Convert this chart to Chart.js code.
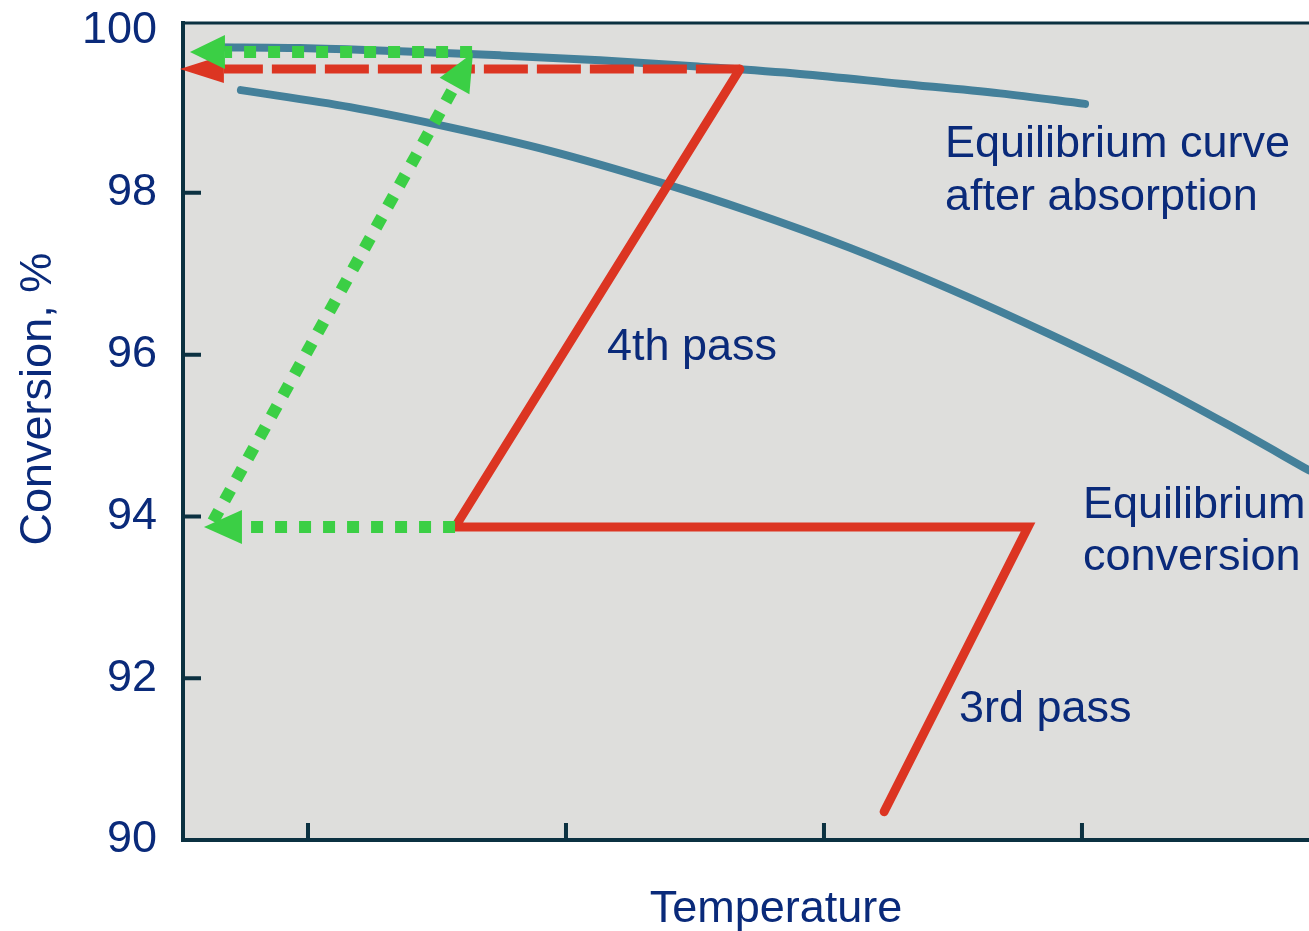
<!DOCTYPE html>
<html>
<head>
<meta charset="utf-8">
<script src="https://cdn.jsdelivr.net/npm/chart.js@4"></script>
<style>
  html, body { margin: 0; padding: 0; background: #fff; }
</style>
</head>
<body>
<canvas id="chart" width="1309" height="931"></canvas>
<script>
// axis ticks (x has no labels, only marks)
const yTicks = [90, 92, 94, 96, 98, 100];
const xTicks = [1, 2, 3, 4];
const yMarks = [92, 94, 96, 98];

// equilibrium conversion (lower blue curve)
const eqX = [0.740, 1.163, 1.550, 1.938, 2.364, 2.713, 3.101, 3.488, 3.876, 4.264, 4.574, 4.880];
const eqY = [99.27, 99.06, 98.81, 98.52, 98.13, 97.77, 97.32, 96.81, 96.25, 95.65, 95.12, 94.57];

// equilibrium curve after absorption (upper blue curve)
const absX = [0.640, 0.969, 1.357, 1.744, 2.132, 2.519, 2.907, 3.295, 3.682, 4.012];
const absY = [99.80, 99.79, 99.75, 99.70, 99.64, 99.56, 99.47, 99.35, 99.23, 99.10];

// 3rd pass -> cooling -> 4th pass (solid red)
const passX = [3.233, 3.791, 1.570, 2.674];
const passY = [90.35, 93.87, 93.87, 99.53];

// 4th pass exit carried back (dashed red)
const exitX = [2.674, 0.674];
const exitY = [99.53, 99.53];

// green dotted steps
const coolX = [1.570, 0.744];
const coolY = [93.87, 93.87];
const absorbX = [0.632, 1.568];
const absorbY = [93.94, 99.32];
const finalX = [1.636, 0.678];
const finalY = [99.74, 99.74];

const notes = [
  { text: 'Equilibrium curve', x: 3.469, y: 98.443 },
  { text: 'after absorption', x: 3.469, y: 97.787 },
  { text: '4th pass', x: 2.159, y: 95.933 },
  { text: 'Equilibrium', x: 4.004, y: 93.980 },
  { text: 'conversion', x: 4.004, y: 93.337 },
  { text: '3rd pass', x: 3.523, y: 91.459 }
];

const navy = '#0a2a7a';
const axisColor = '#0b3141';
const blue = '#44809a';
const red = '#dc3522';
const green = '#3bcf45';
const font = '"Liberation Sans", Arial, sans-serif';

function pts(xs, ys) {
  return xs.map((x, i) => ({ x: x, y: ys[i] }));
}

const frame = {
  id: 'frame',
  beforeDraw(chart) {
    const { ctx, chartArea: a } = chart;
    ctx.save();
    ctx.fillStyle = '#dededc';
    ctx.fillRect(a.left, a.top, a.right - a.left, a.bottom - a.top);
    ctx.strokeStyle = axisColor;
    ctx.lineWidth = 3;
    ctx.beginPath();
    ctx.moveTo(a.left, a.top);
    ctx.lineTo(a.right, a.top);
    ctx.stroke();
    ctx.restore();
  },
  beforeDatasetsDraw(chart) {
    const { ctx, chartArea: a, scales } = chart;
    ctx.save();
    ctx.strokeStyle = axisColor;
    ctx.lineWidth = 4;
    ctx.beginPath();
    yMarks.forEach(v => {
      const y = scales.y.getPixelForValue(v);
      ctx.moveTo(a.left, y);
      ctx.lineTo(a.left + 18, y);
    });
    xTicks.forEach(v => {
      const x = scales.x.getPixelForValue(v);
      ctx.moveTo(x, a.bottom);
      ctx.lineTo(x, a.bottom - 17);
    });
    ctx.stroke();
    ctx.restore();
  },
  afterDatasetDraw(chart, args) {
    const ds = chart.data.datasets[args.index];
    if (!ds.arrow) return;
    const p = args.meta.data[args.meta.data.length - 1];
    const q = args.meta.data[args.meta.data.length - 2];
    const d = Math.hypot(p.x - q.x, p.y - q.y);
    const ux = (p.x - q.x) / d, uy = (p.y - q.y) / d;
    const [len, half] = ds.arrow;
    const ctx = chart.ctx;
    ctx.save();
    ctx.fillStyle = ds.borderColor;
    ctx.beginPath();
    ctx.moveTo(p.x + ux * len, p.y + uy * len);
    ctx.lineTo(p.x - uy * half, p.y + ux * half);
    ctx.lineTo(p.x + uy * half, p.y - ux * half);
    ctx.closePath();
    ctx.fill();
    ctx.restore();
  },
  afterDraw(chart) {
    const { ctx, chartArea: a, scales } = chart;
    ctx.save();
    ctx.fillStyle = navy;
    ctx.font = '45px ' + font;
    ctx.textBaseline = 'alphabetic';
    ctx.textAlign = 'left';
    notes.forEach(n => {
      ctx.fillText(n.text, scales.x.getPixelForValue(n.x), scales.y.getPixelForValue(n.y));
    });
    ctx.textAlign = 'center';
    ctx.fillText('Temperature', scales.x.getPixelForValue(2.814), a.bottom + 82);
    ctx.translate(a.left - 132, scales.y.getPixelForValue(95.45));
    ctx.rotate(-Math.PI / 2);
    ctx.fillText('Conversion, %', 0, 0);
    ctx.restore();
  }
};

new Chart(document.getElementById('chart'), {
  type: 'line',
  data: {
    datasets: [
      { data: pts(finalX, finalY), borderColor: green, borderWidth: 12, borderDash: [12, 12], arrow: [35, 17], order: 0 },
      { data: pts(absorbX, absorbY), borderColor: green, borderWidth: 12, borderDash: [12, 12], arrow: [38, 17], order: 0 },
      { data: pts(coolX, coolY), borderColor: green, borderWidth: 12, borderDash: [12, 12], arrow: [38, 17], order: 0 },
      { data: pts(exitX, exitY), borderColor: red, borderWidth: 9, borderDash: [44, 9], arrow: [44, 14], order: 1 },
      { data: pts(passX, passY), borderColor: red, borderWidth: 9, borderCapStyle: 'round', borderJoinStyle: 'miter', order: 1 },
      { data: pts(absX, absY), borderColor: blue, borderWidth: 8, borderCapStyle: 'round', cubicInterpolationMode: 'monotone', order: 2 },
      { data: pts(eqX, eqY), borderColor: blue, borderWidth: 8, borderCapStyle: 'round', cubicInterpolationMode: 'monotone', order: 2 }
    ]
  },
  options: {
    responsive: false,
    animation: false,
    events: [],
    layout: { padding: { top: 23, right: 0, left: 0, bottom: 0 } },
    elements: { point: { radius: 0 }, line: { fill: false } },
    plugins: { legend: { display: false }, tooltip: { enabled: false } },
    scales: {
      x: {
        type: 'linear',
        min: 0.5155,
        max: 4.88,
        afterBuildTicks: s => { s.ticks = xTicks.map(v => ({ value: v })); },
        afterFit: s => { s.height = 91; s.paddingLeft = 0; s.paddingRight = 0; },
        ticks: { display: false },
        grid: { display: false, drawTicks: false },
        border: { display: true, color: axisColor, width: 4 }
      },
      y: {
        type: 'linear',
        min: 90,
        max: 100.1,
        afterBuildTicks: s => { s.ticks = yTicks.map(v => ({ value: v })); },
        afterFit: s => { s.width = 183; s.paddingTop = 0; s.paddingBottom = 0; },
        ticks: {
          padding: 26,
          color: navy,
          font: { family: font, size: 45, lineHeight: 1 }
        },
        grid: { display: false, drawTicks: false },
        border: { display: true, color: axisColor, width: 4 }
      }
    }
  },
  plugins: [frame]
});
</script>
</body>
</html>
